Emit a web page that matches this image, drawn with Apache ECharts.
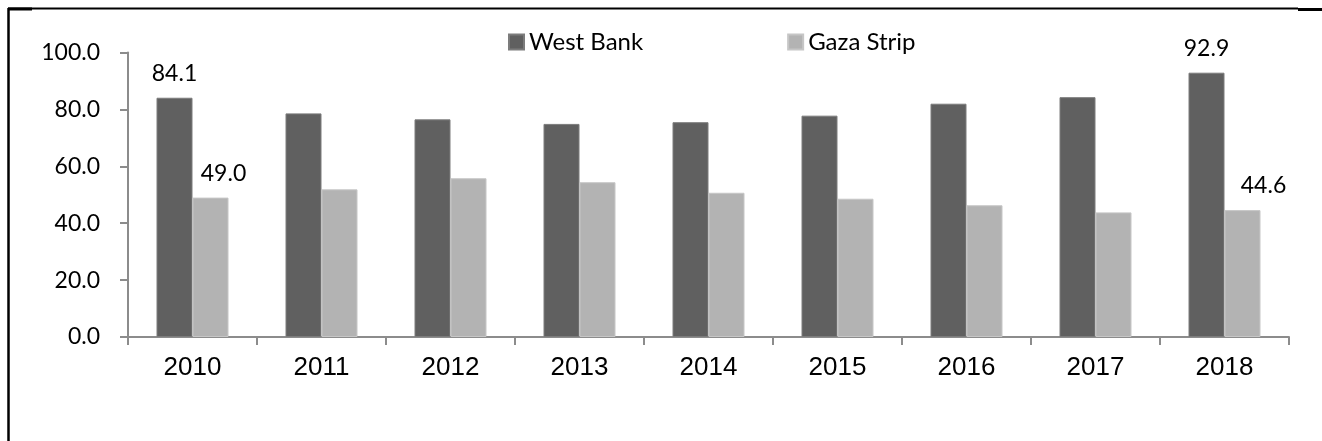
<!DOCTYPE html>
<html>
<head>
<meta charset="utf-8">
<script src="https://cdn.jsdelivr.net/npm/echarts@6/dist/echarts.min.js"></script>
<style>
html,body{margin:0;padding:0;background:#fff;}
#c{width:1322px;height:441px;}
</style>
</head>
<body>
<div id="c"></div>
<script>
var categories = ['2010','2011','2012','2013','2014','2015','2016','2017','2018'];
var westBank = [84.1, 78.6, 76.5, 74.9, 75.5, 77.8, 82.0, 84.3, 92.9];
var gazaStrip = [49.0, 51.9, 55.8, 54.4, 50.7, 48.6, 46.3, 43.8, 44.6];
var yTicks = [0, 20, 40, 60, 80, 100];
var westLabelIdx = [0, 8];
var gazaLabelIdx = [0, 8];
var gazaLabelShift = {0: 13, 8: 21};

var labelFont = {fontFamily: 'Lato', fontSize: 23, color: '#000'};

function buildData(arr, idxs, shifts){
  return arr.map(function(v, i){
    if (idxs.indexOf(i) >= 0) {
      return {value: v, label: Object.assign({show: true, position: 'top', distance: 13,
        offset: [shifts && shifts[i] ? shifts[i] : 0, 0],
        formatter: function(p){ return p.value.toFixed(1); }}, labelFont)};
    }
    return v;
  });
}

var chart = echarts.init(document.getElementById('c'), null, {renderer: 'canvas'});
chart.setOption({
  animation: false,
  backgroundColor: '#fff',
  legend: {
    left: 503, top: 25,
    itemWidth: 15, itemHeight: 15, itemGap: 144,
    icon: 'rect',
    textStyle: {fontFamily: 'Lato', fontSize: 24, color: '#000'},
    data: ['West Bank', 'Gaza Strip']
  },
  grid: {left: 128, right: 33, top: 52.5, bottom: 104, containLabel: false},
  xAxis: {
    type: 'category',
    data: categories,
    axisLine: {lineStyle: {color: '#8c8c8c', width: 2}},
    axisTick: {show: true, length: 8, lineStyle: {color: '#8c8c8c', width: 2}},
    axisLabel: {fontFamily: 'Liberation Sans', fontSize: 26, color: '#000', margin: 18}
  },
  yAxis: {
    type: 'value',
    min: yTicks[0], max: yTicks[yTicks.length - 1], interval: 20,
    splitLine: {show: false},
    axisLine: {show: true, lineStyle: {color: '#8c8c8c', width: 2}},
    axisTick: {show: true, length: 8, lineStyle: {color: '#8c8c8c', width: 2}},
    axisLabel: {fontFamily: 'Lato', fontSize: 23, color: '#000', margin: 28,
      formatter: function(v){ return v.toFixed(1); }}
  },
  series: [
    {name: 'West Bank', type: 'bar', barWidth: 36, barGap: '0%',
     itemStyle: {color: '#606060', borderColor: '#7c7c7c', borderWidth: 1},
     data: buildData(westBank, westLabelIdx, null)},
    {name: 'Gaza Strip', type: 'bar', barWidth: 36, barGap: '0%',
     itemStyle: {color: '#b3b3b3', borderColor: '#c6c6c6', borderWidth: 1},
     data: buildData(gazaStrip, gazaLabelIdx, gazaLabelShift)}
  ],
  graphic: [
    {type: 'line', shape: {x1: 8, y1: 8.5, x2: 1298, y2: 8.5}, style: {stroke: '#000', lineWidth: 2}},
    {type: 'line', shape: {x1: 8, y1: 9, x2: 32, y2: 9}, style: {stroke: '#000', lineWidth: 3}},
    {type: 'line', shape: {x1: 1298, y1: 9.5, x2: 1322, y2: 9.5}, style: {stroke: '#000', lineWidth: 3}},
    {type: 'line', shape: {x1: 8.5, y1: 8, x2: 8.5, y2: 441}, style: {stroke: '#000', lineWidth: 2.5}}
  ]
});
</script>
</body>
</html>
